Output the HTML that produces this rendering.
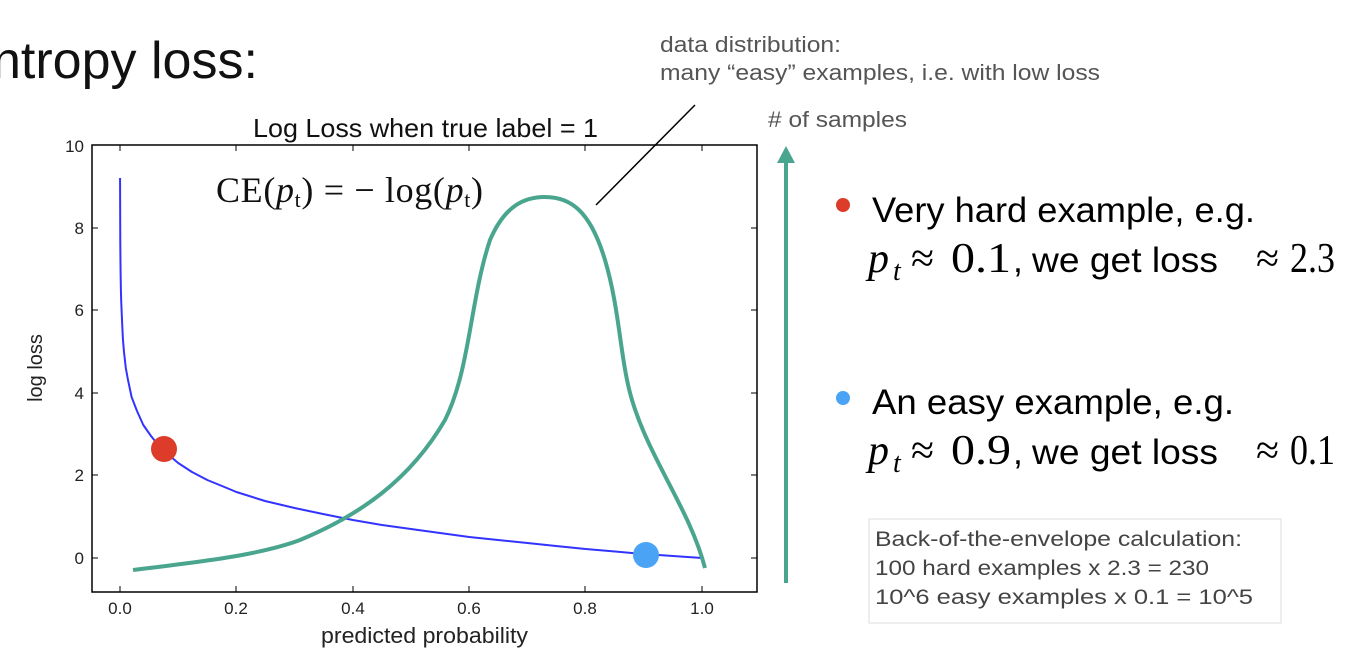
<!DOCTYPE html>
<html><head><meta charset="utf-8"><style>
body{margin:0;width:1360px;height:664px;background:#fff;overflow:hidden;font-family:"Liberation Sans",sans-serif}
</style></head><body>
<svg width="1360" height="664" xmlns="http://www.w3.org/2000/svg" style="position:absolute;left:0;top:0">
<text x="-8" y="78" font-family="Liberation Sans" font-size="52" fill="#111">ntropy loss:</text>
<text x="660" y="52" font-size="22.5" fill="#555" textLength="181" lengthAdjust="spacingAndGlyphs">data distribution:</text>
<text x="660" y="80" font-size="22.5" fill="#555" textLength="440" lengthAdjust="spacingAndGlyphs">many “easy” examples, i.e. with low loss</text>
<text x="768" y="127" font-size="22" fill="#555" textLength="139" lengthAdjust="spacingAndGlyphs"># of samples</text>
<line x1="695" y1="105" x2="596" y2="205" stroke="#000" stroke-width="1.5"/>
<rect x="92" y="145" width="665" height="447" fill="none" stroke="#000" stroke-width="1.5"/>
<text x="253" y="137" font-size="26" fill="#111" textLength="345" lengthAdjust="spacingAndGlyphs">Log Loss when true label = 1</text>
<g stroke="#000" stroke-width="1">
<line x1="120" y1="145" x2="120" y2="151"/><line x1="236" y1="145" x2="236" y2="151"/><line x1="353" y1="145" x2="353" y2="151"/><line x1="469" y1="145" x2="469" y2="151"/><line x1="585" y1="145" x2="585" y2="151"/><line x1="702" y1="145" x2="702" y2="151"/>
<line x1="120" y1="592" x2="120" y2="586"/><line x1="236" y1="592" x2="236" y2="586"/><line x1="353" y1="592" x2="353" y2="586"/><line x1="469" y1="592" x2="469" y2="586"/><line x1="585" y1="592" x2="585" y2="586"/><line x1="702" y1="592" x2="702" y2="586"/>
<line x1="92" y1="558" x2="98" y2="558"/><line x1="92" y1="475" x2="98" y2="475"/><line x1="92" y1="393" x2="98" y2="393"/><line x1="92" y1="310" x2="98" y2="310"/><line x1="92" y1="228" x2="98" y2="228"/>
<line x1="757" y1="558" x2="751" y2="558"/><line x1="757" y1="475" x2="751" y2="475"/><line x1="757" y1="393" x2="751" y2="393"/><line x1="757" y1="310" x2="751" y2="310"/><line x1="757" y1="228" x2="751" y2="228"/>
</g>
<g font-size="17" fill="#222" text-anchor="end">
<text x="84" y="152">10</text><text x="84" y="234">8</text><text x="84" y="316">6</text><text x="84" y="399">4</text><text x="84" y="481">2</text><text x="84" y="564">0</text>
</g>
<g font-size="17" fill="#222" text-anchor="middle">
<text x="120" y="614">0.0</text><text x="236" y="614">0.2</text><text x="353" y="614">0.4</text><text x="469" y="614">0.6</text><text x="585" y="614">0.8</text><text x="702" y="614">1.0</text>
</g>
<text x="321" y="643" font-size="22" fill="#222" textLength="207" lengthAdjust="spacingAndGlyphs">predicted probability</text>
<text x="42" y="368" font-size="20" text-anchor="middle" fill="#222" transform="rotate(-90 42 368)">log loss</text>
<text x="216" y="202" font-family="Liberation Serif" font-size="36" fill="#111" textLength="267" lengthAdjust="spacing">CE(<tspan font-style="italic">p</tspan><tspan font-size="22" dy="5">t</tspan><tspan dy="-5">) = − log(</tspan><tspan font-style="italic">p</tspan><tspan font-size="22" dy="5">t</tspan><tspan dy="-5">)</tspan></text>
<polyline fill="none" stroke="#3333ff" stroke-width="2" stroke-linejoin="round" points="120.06,178 120.2,220 120.3,244 120.45,260 120.6,273 120.9,290 121.2,301 122,320 122.9,339 124,352 125.8,368 128,380 131.6,397 137,411 143.3,425 151,436 160.7,448 170,456 178.2,463 192,472 207.3,480 222,486 236.4,492 265,501 294.6,508 323,514 352.8,520 382,525 411,529 440,533 469.2,537 498,540 527.4,543 556,546 585.6,549 615,551.5 643.8,554 673,556 702,558"/>
<path d="M133,570 C200,562 260,555 300,540 C360,515 410,480 445,420 C470,370 470,300 490,240 C505,205 525,197 545,197 C570,197 590,210 605,260 C620,310 620,360 632,400 C650,460 690,510 705,568" fill="none" stroke="#4aa58f" stroke-width="4"/>
<circle cx="164" cy="449" r="13" fill="#dd3c2a"/>
<circle cx="646" cy="555" r="13" fill="#4aa3f5"/>
<line x1="786" y1="583" x2="786" y2="160" stroke="#4aa58f" stroke-width="4"/>
<polygon points="777,163 786,146 795,163" fill="#4aa58f"/>
<circle cx="843" cy="205" r="7" fill="#dd3c2a"/>
<text x="872" y="222" font-size="35.5" fill="#000" textLength="383" lengthAdjust="spacingAndGlyphs">Very hard example, e.g.</text>
<circle cx="843" cy="398" r="7" fill="#4aa3f5"/>
<text x="872" y="414" font-size="35.5" fill="#000" textLength="362" lengthAdjust="spacingAndGlyphs">An easy example, e.g.</text>
<g font-family="Liberation Serif" fill="#000" font-size="42">
<text x="868" y="272" font-style="italic">p</text><text x="893" y="280" font-size="28" font-style="italic">t</text>
<text x="911" y="272">≈</text>
<text x="951" y="272" textLength="60" lengthAdjust="spacingAndGlyphs">0.1</text>
<text x="1256" y="272">≈</text>
<text x="1290" y="272" textLength="45" lengthAdjust="spacingAndGlyphs">2.3</text>
<text x="868" y="464" font-style="italic">p</text><text x="893" y="472" font-size="28" font-style="italic">t</text>
<text x="911" y="464">≈</text>
<text x="951" y="464" textLength="60" lengthAdjust="spacingAndGlyphs">0.9</text>
<text x="1256" y="464">≈</text>
<text x="1290" y="464" textLength="45" lengthAdjust="spacingAndGlyphs">0.1</text>
</g>
<text x="1013" y="272" font-size="35.5">,</text>
<text x="1032" y="272" font-size="35.5" textLength="186" lengthAdjust="spacingAndGlyphs">we get loss</text>
<text x="1013" y="464" font-size="35.5">,</text>
<text x="1032" y="464" font-size="35.5" textLength="186" lengthAdjust="spacingAndGlyphs">we get loss</text>
<rect x="869" y="519" width="412" height="104" fill="#fff" stroke="#ddd"/>
<text x="875" y="546" font-size="21.5" fill="#444" textLength="367" lengthAdjust="spacingAndGlyphs">Back-of-the-envelope calculation:</text>
<text x="875" y="575" font-size="21.5" fill="#444" textLength="334" lengthAdjust="spacingAndGlyphs">100 hard examples x 2.3 = 230</text>
<text x="875" y="604" font-size="21.5" fill="#444" textLength="378" lengthAdjust="spacingAndGlyphs">10^6 easy examples x 0.1 = 10^5</text>
</svg>
</body></html>
